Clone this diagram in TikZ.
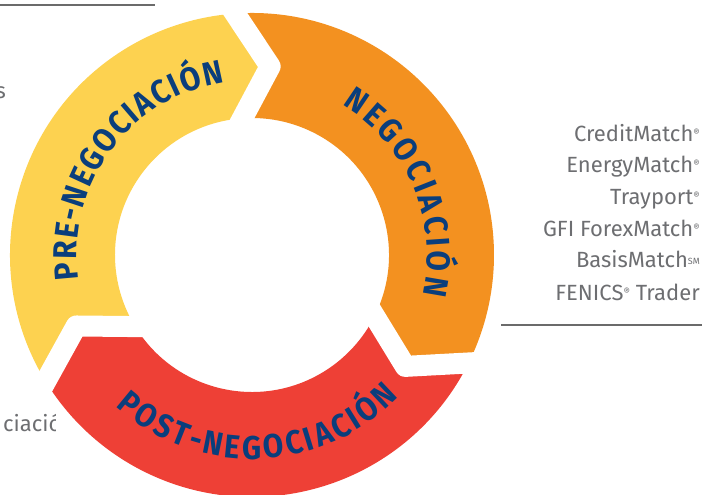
\documentclass[tikz,border=0pt]{standalone}
\usepackage{fontspec}
\setmainfont{Fira Sans}
\newfontfamily\arcfam[FakeStretch=0.9]{Fira Sans}
\usetikzlibrary{decorations.text,calc}
\definecolor{cyellow}{HTML}{FDD250}
\definecolor{corange}{HTML}{F39120}
\definecolor{cred}{HTML}{EE4036}
\definecolor{cblue}{HTML}{0A3E7C}
\definecolor{cgray}{HTML}{6D6E71}
\definecolor{cline}{HTML}{6B6B6B}
\newcommand\arcfont{\arcfam\bfseries\fontsize{33}{40}\selectfont}
\newcommand\regmark{\raisebox{5pt}{\fontsize{10}{10}\selectfont ®}}
\newcommand\smmark{\raisebox{3.5pt}{\fontsize{9}{9}\selectfont SM}}
\begin{document}
\begin{tikzpicture}[x=1pt,y=1pt,
  lbl/.style={text=cgray,font=\fontsize{22}{26}\selectfont,inner sep=0pt,anchor=base east},
  rulestyle/.style={draw=cline,line width=2pt},
  gapline/.style={draw=white,line width=21pt,line join=round,line cap=butt},
  arctext/.style={decorate,decoration={text along path,text color=cblue,text align={fit to path}}}]
\useasboundingbox (-252,-240) rectangle (450,255);
% ring segments
\def\R{242}\def\r{137}\def\m{189.5}
\fill[cyellow] (211.5:\R) arc[start angle=211.5,end angle=94,radius=\R] -- (84.5:\m) -- (94:\r)
  arc[start angle=94,end angle=211.5,radius=\r] -- (202:\m) -- cycle;
\fill[corange] (94:\R) arc[start angle=94,end angle=-26.5,radius=\R] -- (-36:\m) -- (-26.5:\r)
  arc[start angle=-26.5,end angle=94,radius=\r] -- (84.5:\m) -- cycle;
\fill[cred] (-26.5:\R) arc[start angle=-26.5,end angle=-148.5,radius=\R] -- (-158:\m) -- (-148.5:\r)
  arc[start angle=-148.5,end angle=-26.5,radius=\r] -- (-36:\m) -- cycle;
% gaps
\coordinate (vt) at (84.5:\m);
\coordinate (vr) at (-36:\m);
\coordinate (vb) at (202:\m);
\draw[gapline] ($(vt)!1.35!(94:\R)$) -- (vt) -- ($(vt)!1.35!(94:\r)$);
\draw[gapline] ($(vr)!1.35!(-26.5:\R)$) -- (vr) -- ($(vr)!1.35!(-26.5:\r)$);
\draw[gapline] ($(vb)!1.35!(211.5:\R)$) -- (vb) -- ($(vb)!1.35!(211.5:\r)$);
% arc texts
\path[arctext,decoration={text={|\arcfont|PRE-NEGOCIACIÓN}}] (188:175) arc[start angle=188,end angle=99,radius=175];
\path[arctext,decoration={text={|\arcfont|NEGOCIACIÓN}}] (59:175) arc[start angle=59,end angle=-13,radius=175];
\path[arctext,decoration={text={|\arcfont|POST-NEGOCIACIÓN}}] (228:204) arc[start angle=228,end angle=316,radius=204];
% right labels
\node[lbl] (l1) at (448,113.3) {CreditMatch\regmark};
\node[lbl] (l2) at (448,82.3) {EnergyMatch\regmark};
\node[lbl] (l3) at (448,50) {Trayport\regmark};
\node[lbl] (l4) at (448,18.3) {GFI ForexMatch\regmark};
\node[lbl] (l5) at (448,-13) {BasisMatch\smmark};
\node[lbl] (l6) at (448,-45.7) {FENICS\regmark{} Trader};
% rules
\coordinate (ra) at (-252,250); \coordinate (rb) at (-97,250);
\draw[rulestyle] (ra) -- (rb);
\coordinate (rc) at (249,-70); \coordinate (rd) at (450,-70);
\draw[rulestyle] (rc) -- (rd);
% partial left texts
\node[lbl] (ls) at (-246,156) {s};
\begin{scope}
\clip (-260,-200) rectangle (-196,-150);
\node[lbl,anchor=base west] (lc) at (-249,-177) {ciación};
\end{scope}
\end{tikzpicture}
\end{document}
